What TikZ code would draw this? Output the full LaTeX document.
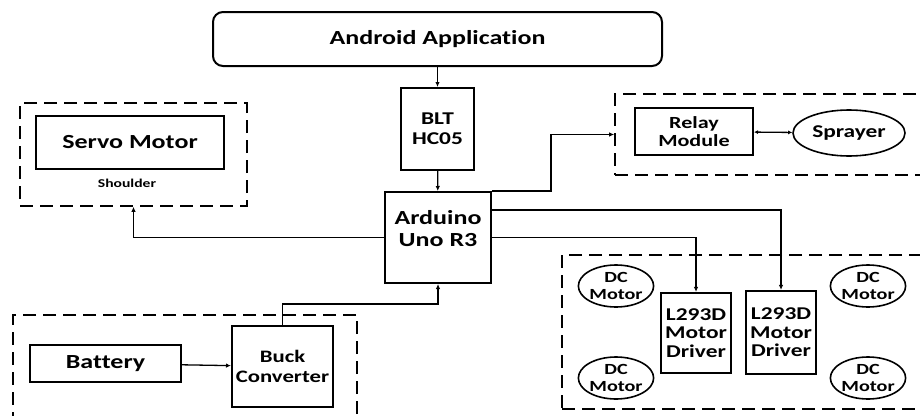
\documentclass[tikz,border=0pt]{standalone}
\usepackage{fontspec}
\setmainfont{Carlito}[FakeStretch=1.3, Ligatures=NoCommon]
\usetikzlibrary{positioning, arrows.meta, shapes.geometric}

\begin{document}
\begin{tikzpicture}[x=1pt, y=-1pt,
    box/.style 2 args={draw, line width=2pt, align=center, inner sep=0pt, font=\bfseries\fontsize{#1}{#2}\selectfont},
    grp/.style={draw, line width=1.6pt, dash pattern=on 13pt off 7pt, inner sep=0pt},
    motor/.style={draw, ellipse, line width=1.6pt, minimum width=74pt, minimum height=42pt, inner sep=0pt, align=center, font=\bfseries\fontsize{15.5}{17}\selectfont},
    conn/.style={line width=1.3pt, -{Latex[length=5pt, width=4.5pt]}}]
    \clip (0,0) rectangle (920,415);
    % dashed groups
    \node[grp, minimum width=227pt, minimum height=103pt] (servogrp) at (133.5,154.5) {};
    \node[grp, minimum width=320pt, minimum height=81pt] (relaygrp) at (775,134.5) {};
    \node[grp, minimum width=373pt, minimum height=154pt] (motorgrp) at (748.5,332) {};
    \node[grp, minimum width=344pt, minimum height=115pt] (powergrp) at (185,372.5) {};
    % blocks
    \node[box={20}{23}, rounded corners=10pt, minimum width=449pt, minimum height=54pt] (app) at (437.5,39) {Android Application};
    \node[box={18}{20}, minimum width=73pt, minimum height=82pt] (blt) at (437.5,129) {BLT\\HC05};
    \node[box={20}{22}, minimum width=106pt, minimum height=91pt] (ard) at (438,237.5) {Arduino\\Uno R3\\[-4pt]};
    \node[box={20}{23}, minimum width=188pt, minimum height=53pt] (servo) at (130,142.5) {Servo Motor};
    \node[font=\bfseries\fontsize{12}{14}\selectfont] (shoulder) at (127,183) {Shoulder};
    \node[box={17}{18}, minimum width=118pt, minimum height=47pt] (relay) at (694,131.5) {Relay\\Module};
    \node[box={18}{18}, ellipse, line width=1.6pt, minimum width=112pt, minimum height=46pt] (sprayer) at (849,133) {Sprayer};
    \node[box={18}{18.5}, line width=2.2pt, minimum width=70pt, minimum height=80pt] (drv1) at (696,333) {L293D\\Motor\\Driver};
    \node[box={18}{18.5}, line width=2.2pt, minimum width=70pt, minimum height=83pt] (drv2) at (781,332.5) {L293D\\Motor\\Driver};
    \node[motor] (m1) at (616,286) {DC\\Motor};
    \node[motor] (m2) at (616,378) {DC\\Motor};
    \node[motor] (m3) at (868,286) {DC\\Motor};
    \node[motor] (m4) at (868,378) {DC\\Motor};
    \node[box={20}{22}, minimum width=151pt, minimum height=37pt] (battery) at (105.5,363.5) {Battery};
    \node[box={17.5}{20}, minimum width=101pt, minimum height=81pt] (buck) at (282.5,366.5) {Buck\\Converter};
    % connections
    \draw[conn] (app) -- (blt);
    \draw[conn] (blt) -- (ard);
    \draw[conn] (ard.north east) -- ++(59,0) |- (relaygrp.west);
    \draw[line width=1.3pt, {Latex[length=4pt, width=4pt]}-{Latex[length=4pt, width=4pt]}] (relay) -- (sprayer);
    \draw[conn] (ard.west) -| (servogrp.south);
    \draw[conn] ([yshift=27.5pt]ard.east) -| (drv2.north);
    \draw[conn] (ard.east) -| (drv1.north);
    \draw[conn] (battery) -- (buck);
    \draw[conn] (buck.north) -- ++(0,-21) -| (ard.south);
  \end{tikzpicture}
\end{document}
